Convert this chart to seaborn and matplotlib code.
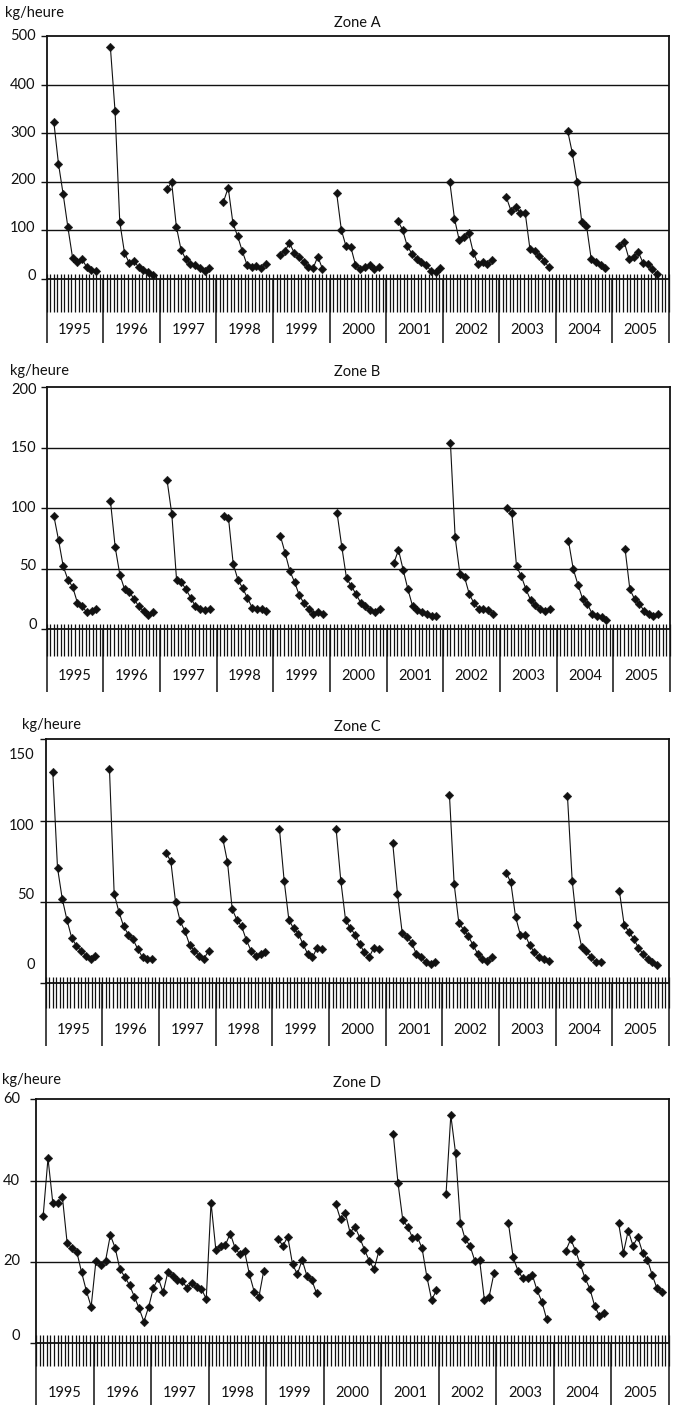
import numpy as np
import pandas as pd
import matplotlib
matplotlib.use("Agg")
import matplotlib.pyplot as plt
import seaborn as sns
from matplotlib.transforms import blended_transform_factory

# Monthly catch rates (kg/heure), one row per year, Jan..Dec; None = no data
years = list(range(1995, 2006))
N = None

zone_a = [
    N, 324, 237, 174, 106, 43, 34, 41, 24, 18, 17, N,      # 1995
    N, 478, 345, 117, 54, 33, 38, 24, 19, 14, 9, N,        # 1996
    N, 185, 199, 108, 60, 41, 31, 28, 22, 16, 22, N,       # 1997
    N, 159, 188, 115, 88, 57, 29, 24, 26, 23, 31, N,       # 1998
    N, 50, 57, 74, 54, 45, 36, 24, 22, 46, 21, N,          # 1999
    N, 177, 101, 67, 66, 29, 21, 24, 28, 21, 24, N,        # 2000
    N, N, 119, 101, 67, 52, 41, 34, 28, 17, 14, 22,        # 2001
    N, 200, 124, 80, 87, 95, 54, 31, 34, 31, 39, N,        # 2002
    N, 168, 140, 148, 136, 136, 62, 57, 48, 38, 24, N,     # 2003
    N, N, 305, 259, 200, 117, 110, 41, 34, 28, 23, N,      # 2004
    N, 68, 76, 42, 46, 55, 33, 31, 20, 10, N, N,           # 2005
]

zone_b = [
    N, 94, 74, 52, 41, 35, 22, 19, 14, 15, 17, N,
    N, 106, 68, 45, 33, 31, 25, 19, 15, 12, 14, N,
    N, 123, 95, 41, 39, 33, 26, 19, 17, 16, 17, N,
    N, 94, 92, 54, 41, 34, 26, 18, 17, 17, 15.5, N,
    N, 77, 63, 48, 39, 28, 21.5, 17, 13, 14.6, 13, N,
    N, 96, 68, 42, 36, 29, 22, 19, 16, 14, 16.5, N,
    N, 54.5, 65.6, 49, 33, 19, 16, 14.6, 13, 11, 11, N,
    N, 154, 76, 46, 43, 29, 21.5, 17, 16.5, 16, 13, N,
    N, 100, 96, 52, 44, 33, 24, 20, 17, 15, 17, N,
    N, N, 73, 50, 37, 25, 21, 13, 11, 10, 8, N,
    N, N, 66, 33, 25, 21, 15.4, 13, 11, 13, N, N,
]

zone_c = [
    N, 130, 71, 52, 39, 28, 23, 20, 17, 15, 17, N,
    N, 132, 55, 44, 35, 30, 27, 21, 16, 15, 15, N,
    N, 80, 75, 50, 38, 32, 23.5, 20, 17, 15, 20, N,
    N, 89, 74.5, 45.5, 39, 35, 26.5, 20, 17, 18, 19, N,
    N, 95, 63, 39, 33.7, 30.6, 24, 18, 16, 22, 21, N,
    N, 95, 63, 39, 34, 30, 24, 19, 16, 22, 21, N,
    N, 86, 55, 31, 28.6, 25, 18, 16, 13, 12, 13, N,
    N, 116, 61, 37, 33, 29, 23.5, 18, 15, 14, 16, N,
    N, 68, 62, 41, 30, 30, 23.5, 19, 16, 15, 14, N,
    N, N, 115, 63, 36, 22.4, 20, 16, 13, 13, N, N,
    N, 56.5, 36, 31.6, 27.5, 22, 18, 14.7, 13, 11, N, N,
]

zone_d = [
    N, 31.4, 45.5, 34.6, 34.6, 36, 24.6, 23.4, 22.5, 17.5, 12.9, 9,
    20.3, 19.3, 20.3, 26.6, 23.5, 18.2, 16.4, 14.3, 11.5, 8.6, 5.3, 9,
    13.7, 16, 12.5, 17.5, 16.5, 15.5, 15.2, 13.7, 14.8, 13.8, 13.4, 10.9,
    34.6, 23, 24, 24.2, 27, 23.5, 21.9, 22.6, 17, 12.7, 11.5, 17.9,
    N, N, 25.6, 24, 26.2, 19.4, 17, 20.5, 16.6, 15.6, 12.3, N,
    N, N, 34.3, 30.5, 32.1, 27.2, 28.7, 26, 23, 20.3, 18.2, 22.7,
    N, N, 51.4, 39.3, 30.2, 28.7, 26, 26.2, 23.4, 16.4, 10.7, 13,
    N, 36.6, 56.1, 46.7, 29.7, 25.6, 24, 20.3, 20.5, 10.7, 11.5, 17.2,
    N, N, 29.7, 21.1, 17.9, 16, 16.1, 16.8, 13, 10.2, 5.9, N,
    N, N, 22.8, 25.6, 22.8, 19.4, 16, 13.4, 9.2, 6.7, 7.5, N,
    N, 29.5, 22.3, 27.7, 24, 26.1, 22.3, 20.5, 16.8, 13.5, 12.7, N,
]

zone_names = ["Zone A", "Zone B", "Zone C", "Zone D"]
y_ticks = {
    "Zone A": [0, 100, 200, 300, 400, 500],
    "Zone B": [0, 50, 100, 150, 200],
    "Zone C": [0, 50, 100, 150],
    "Zone D": [0, 20, 40, 60],
}
unit_label = "kg/heure"

# ---------------------------------------------------------------- layout (pixels)
W, H = 676, 1407
layout = {
    # axes box (left, right, top, bottom), month tick reach above/below,
    # year separator reach, year label depth, y label right edge,
    # y label shifts (pixels, upward positive)
    "Zone A": dict(box=(46.7, 669, 36, 279), up=5, down=33, sep=64, lab=51,
                   yl_edge=-11, yl_shift=[3, 2, 2, 0, 0, 0],
                   unit=(5, 13), title=(357, 23)),
    "Zone B": dict(box=(46.7, 670, 387.3, 629.3), up=5, down=27, sep=63, lab=47,
                   yl_edge=-10, yl_shift=[4, 3, 0, 0, -3],
                   unit=(10, 371), title=(357, 372)),
    "Zone C": dict(box=(45.7, 669, 739.3, 983.3), up=6, down=25, sep=63, lab=47,
                   yl_edge=-11, yl_shift=[18, 6.5, -5, -16],
                   unit=(21.7, 725), title=(357, 727)),
    "Zone D": dict(box=(36, 669, 1099.3, 1343.3), up=8, down=23, sep=62, lab=50,
                   yl_edge=-16, yl_shift=[7, 1, 0, 0],
                   unit=(1.7, 1080), title=(357, 1083)),
}
series = {"Zone A": zone_a, "Zone B": zone_b, "Zone C": zone_c, "Zone D": zone_d}

sns.set_theme(style="white")
plt.rcParams["font.family"] = ["Lato", "DejaVu Sans"]
FS = 10.5
INK = "#111111"

fig = plt.figure(figsize=(W / 100, H / 100), dpi=100)


def to_frame(values):
    """Turn a monthly list into rows with a run id so gaps stay open."""
    rows, run, prev = [], 0, False
    for i, v in enumerate(values):
        if v is None:
            prev = False
            continue
        if not prev:
            run += 1
        rows.append((i + 0.5, v, run))
        prev = True
    return pd.DataFrame(rows, columns=["mois", "kg", "run"])


n_months = 12 * len(years)
month_ticks = np.arange(0, n_months + 1e-9, 12 / 16)
year_edges = np.arange(0, n_months + 1, 12)
year_mid = year_edges[:-1] + 6

for name in zone_names:
    cfg = layout[name]
    l, r, t, b = cfg["box"]
    hpx = b - t
    ax = fig.add_axes([l / W, 1 - b / H, (r - l) / W, hpx / H])
    df = to_frame(series[name])

    sns.lineplot(data=df, x="mois", y="kg", units="run", estimator=None,
                 color=INK, linewidth=0.8, ax=ax, legend=False)
    sns.scatterplot(data=df, x="mois", y="kg", marker="D", s=19,
                    color=INK, edgecolor=INK, linewidth=0.3, ax=ax,
                    zorder=4, legend=False)

    ticks = y_ticks[name]
    ax.set_xlim(0, n_months)
    ax.set_ylim(0, ticks[-1])
    ax.set_xlabel("")
    ax.set_ylabel("")
    ax.set_xticks([])
    ax.set_yticks(ticks)
    ax.tick_params(axis="y", which="major", direction="out", length=4.2,
                   width=1.0, color=INK, labelleft=False, left=True)
    ax.grid(False)
    for v in ticks[1:-1]:
        ax.axhline(v, color=INK, lw=1.0, zorder=1)
    for sp in ax.spines.values():
        sp.set_visible(True)
        sp.set_color(INK)
        sp.set_linewidth(1.3)

    # y labels, nudged by a few pixels each
    for v, dy in zip(ticks, cfg["yl_shift"]):
        ax.annotate(str(v), xy=(0, v), xycoords=("axes fraction", "data"),
                    xytext=(cfg["yl_edge"] * 0.72, dy * 0.72),
                    textcoords="offset points", ha="right", va="center",
                    fontsize=FS, color=INK)

    # month ticks crossing the baseline
    trans = blended_transform_factory(ax.transData, ax.transAxes)
    ax.vlines(month_ticks, -cfg["down"] / hpx, cfg["up"] / hpx,
              transform=trans, color=INK, lw=0.9, clip_on=False, zorder=5)
    # year separators and labels below the ticks
    ax.vlines(year_edges, -cfg["sep"] / hpx, 0, transform=trans,
              color=INK, lw=1.1, clip_on=False, zorder=5)
    for x, yr in zip(year_mid, years):
        ax.text(x, -cfg["lab"] / hpx, str(yr), transform=trans,
                ha="center", va="center", fontsize=FS, color=INK)

    ux, uy = cfg["unit"]
    fig.text(ux / W, 1 - uy / H, unit_label, ha="left", va="center",
             fontsize=FS, color=INK)
    tx, ty = cfg["title"]
    fig.text(tx / W, 1 - ty / H, name, ha="center", va="center",
             fontsize=FS, color=INK)

fig.savefig("out.png", dpi=100)
